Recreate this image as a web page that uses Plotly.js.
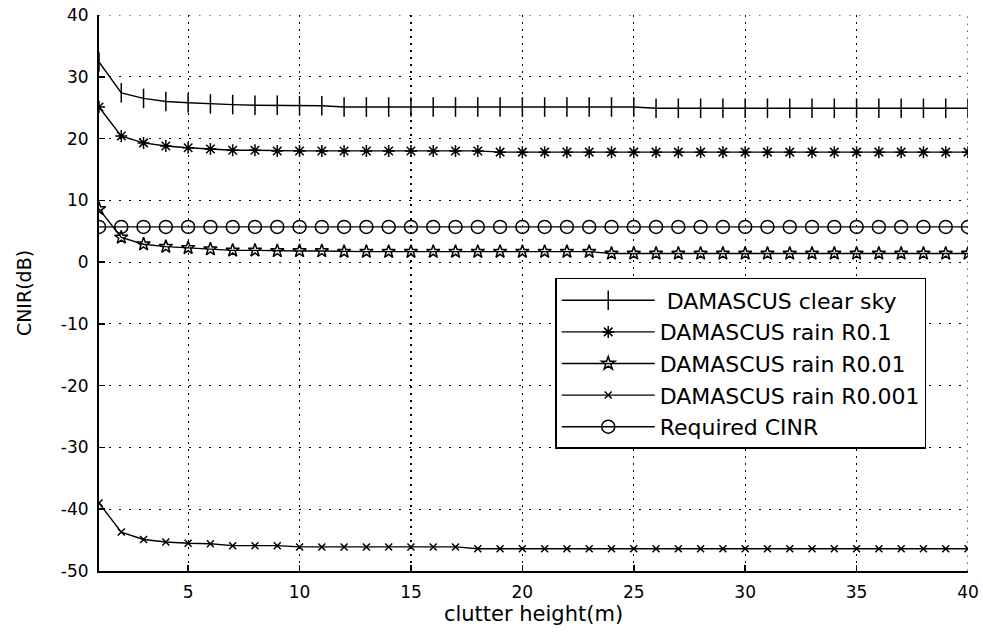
<!DOCTYPE html>
<html>
<head>
<meta charset="utf-8">
<script src="https://cdn.plot.ly/plotly-3.0.1.min.js"></script>
<style>html,body{margin:0;padding:0;background:#fff;}#chart{width:983px;height:632px;}</style>
</head>
<body>
<div id="chart"></div>
<script>
const clutterHeight = [1,2,3,4,5,6,7,8,9,10,11,12,13,14,15,16,17,18,19,20,21,22,23,24,25,26,27,28,29,30,31,32,33,34,35,36,37,38,39,40];

const clearSky = [32.4,27.4,26.5,26.0,25.8,25.6,25.5,25.4,25.4,25.3,25.3,25.1,25.1,25.1,25.1,25.1,25.1,25.1,25.1,25.1,25.1,25.1,25.1,25.1,25.1,24.9,24.9,24.9,24.9,24.9,24.9,24.9,24.9,24.9,24.9,24.9,24.9,24.9,24.9,24.9];

const rainR01 = [25.1,20.4,19.3,18.8,18.5,18.3,18.1,18.1,18.0,18.0,18.0,18.0,18.0,18.0,18.0,18.0,18.0,18.0,17.8,17.8,17.8,17.8,17.8,17.8,17.8,17.8,17.8,17.8,17.8,17.8,17.8,17.8,17.8,17.8,17.8,17.8,17.8,17.8,17.8,17.8];

const rainR001 = [8.6,4.0,2.9,2.5,2.3,2.1,1.9,1.9,1.8,1.8,1.8,1.7,1.7,1.7,1.7,1.7,1.7,1.7,1.7,1.7,1.7,1.7,1.7,1.4,1.4,1.4,1.4,1.4,1.4,1.4,1.4,1.4,1.4,1.4,1.4,1.4,1.4,1.4,1.4,1.4];

const rainR0001 = [-39.0,-43.7,-44.9,-45.3,-45.5,-45.6,-45.9,-45.9,-45.9,-46.1,-46.1,-46.1,-46.1,-46.1,-46.1,-46.1,-46.1,-46.4,-46.4,-46.4,-46.4,-46.4,-46.4,-46.4,-46.4,-46.4,-46.4,-46.4,-46.4,-46.4,-46.4,-46.4,-46.4,-46.4,-46.4,-46.4,-46.4,-46.4,-46.4,-46.4];

const requiredCINR = [5.7,5.7,5.7,5.7,5.7,5.7,5.7,5.7,5.7,5.7,5.7,5.7,5.7,5.7,5.7,5.7,5.7,5.7,5.7,5.7,5.7,5.7,5.7,5.7,5.7,5.7,5.7,5.7,5.7,5.7,5.7,5.7,5.7,5.7,5.7,5.7,5.7,5.7,5.7,5.7];

const seriesNames = [' DAMASCUS clear sky','DAMASCUS rain R0.1','DAMASCUS rain R0.01','DAMASCUS rain R0.001','Required CINR'];
const xTicks = [5,10,15,20,25,30,35,40];
const yTicks = [-50,-40,-30,-20,-10,0,10,20,30,40];
const xRange = [1, 40];
const yRange = [-50, 40];

function mk(y, name, symbol, size) {
  return {
    x: clutterHeight, y: y, name: name, type: 'scatter', mode: 'lines+markers',
    line: {color: '#000', width: 1.4},
    marker: {symbol: symbol, size: size, color: '#000', line: {color: '#000', width: 1.5}}
  };
}

const data = [
  mk(clearSky, seriesNames[0], 'line-ns-open', 14),
  mk(rainR01, seriesNames[1], 'asterisk-open', 10),
  mk(rainR001, seriesNames[2], 'star-open', 10),
  mk(rainR0001, seriesNames[3], 'x-thin-open', 7),
  mk(requiredCINR, seriesNames[4], 'circle-open', 13)
];

const fam = '"DejaVu Sans", Arial, sans-serif';
const tickFont = {family: fam, size: 17, color: '#000'};

const layout = {
  width: 983, height: 632,
  margin: {l: 99, r: 15, t: 15, b: 61},
  paper_bgcolor: '#fff', plot_bgcolor: '#fff',
  font: {family: fam, size: 17, color: '#000'},
  showlegend: true,
  xaxis: {
    range: xRange, tickvals: xTicks, ticktext: xTicks.map(String),
    showgrid: true, gridcolor: '#000', gridwidth: 1.2, griddash: '1.5px,5.5px',
    zeroline: false, showline: true, linecolor: '#000', linewidth: 2,
    ticks: 'inside', ticklen: 6, tickwidth: 1.5, tickcolor: '#000', mirror: false,
    ticklabelstandoff: 5,
    title: {text: 'clutter height(m)', font: {family: fam, size: 21, color: '#000'}, standoff: 3},
    tickfont: tickFont
  },
  yaxis: {
    range: yRange, tickvals: yTicks, ticktext: yTicks.map(String),
    showgrid: true, gridcolor: '#000', gridwidth: 1.2, griddash: '1.5px,8.5px',
    zeroline: false, showline: true, linecolor: '#000', linewidth: 2,
    ticks: 'inside', ticklen: 6, tickwidth: 1.5, tickcolor: '#000', mirror: false,
    ticklabelstandoff: 5,
    title: {text: 'CNIR(dB)', font: {family: fam, size: 19, color: '#000'}, standoff: 24},
    tickfont: tickFont
  },
  shapes: [
    {type: 'line', layer: 'below', xref: 'paper', yref: 'y', x0: 0, x1: 1, y0: yRange[1], y1: yRange[1],
     line: {color: '#000', width: 1.2, dash: '1.5px,8.5px'}},
    {type: 'line', layer: 'below', xref: 'x', yref: 'paper', x0: xRange[1], x1: xRange[1], y0: 0, y1: 1,
     line: {color: '#000', width: 1.2, dash: '1.5px,5.5px'}}
  ],
  legend: {
    x: 0.525, y: 0.527, xanchor: 'left', yanchor: 'top',
    bgcolor: '#fff', bordercolor: '#000', borderwidth: 1.5,
    font: {family: fam, size: 22, color: '#000'}, itemwidth: 93, tracegroupgap: 0
  }
};

Plotly.newPlot('chart', data, layout, {displayModeBar: false, staticPlot: true});
</script>
</body>
</html>
